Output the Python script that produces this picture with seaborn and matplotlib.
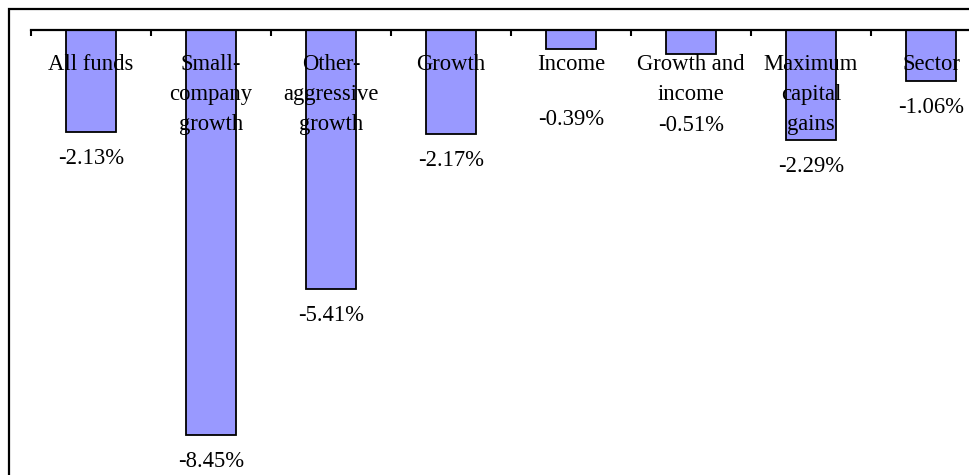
import matplotlib
matplotlib.use("Agg")
import matplotlib.pyplot as plt
import seaborn as sns
import pandas as pd
from matplotlib.patches import Rectangle

categories = ["All funds", "Small-\ncompany\ngrowth", "Other-\naggressive\ngrowth", "Growth",
              "Income", "Growth and\nincome", "Maximum\ncapital\ngains", "Sector"]
values = [-2.13, -8.45, -5.41, -2.17, -0.39, -0.51, -2.29, -1.06]
value_labels = ["-2.13%", "-8.45%", "-5.41%", "-2.17%", "-0.39%", "-0.51%", "-2.29%", "-1.06%"]

sns.set_theme(style="white")
plt.rcParams['font.family'] = ['Liberation Serif', 'DejaVu Serif']

W, H = 970, 475
fig = plt.figure(figsize=(W / 100, H / 100), dpi=100)
fig.patch.set_facecolor("white")

# axes: zero line at y=30px, categories 120px wide starting at x=31
ax = fig.add_axes([31 / W, 0, 960 / W, 1 - 30 / H])
df = pd.DataFrame({"cat": categories, "val": values})
sns.barplot(data=df, x="cat", y="val", order=categories, color="#9999FF", saturation=1,
            width=0.42, edgecolor="black", linewidth=1.3, ax=ax)

ax.set_xlim(-0.5, len(categories) - 0.5)
ax.set_ylim(-(445 / 47.9), 0)
ax.set_xlabel("")
ax.set_ylabel("")
for s in ["left", "right", "bottom"]:
    ax.spines[s].set_visible(False)
ax.spines["top"].set_visible(True)
ax.spines["top"].set_color("black")
ax.spines["top"].set_linewidth(1.6)
ax.xaxis.tick_top()
ax.set_xticks([i - 0.5 for i in range(len(categories) + 1)])
ax.set_xticklabels([])
ax.tick_params(axis="x", direction="in", length=4, width=1.5, color="black", top=True, bottom=False)
ax.set_yticks([])
ax.patch.set_alpha(0)

fs = 16.3
# category labels just below the axis line
for i, c in enumerate(categories):
    ax.annotate(c, xy=(i, 0), xytext=(0, -17.5), textcoords="offset points",
                ha="center", va="top", fontsize=fs, linespacing=1.56, color="black")

# value labels below bar ends (pushed further down when the bar is very short)
for i, (v, lab) in enumerate(zip(values, value_labels)):
    off = 1.48 if v > -0.7 else 0.55
    ax.text(i, v - off, lab, ha="center", va="center", fontsize=fs, color="black")

# chart-area border
fig.patches.append(Rectangle((9 / W, -0.1), 1.2, 1 - 9 / H + 0.1, transform=fig.transFigure,
                             fill=False, edgecolor="black", linewidth=1.6))

fig.savefig("out.png", dpi=100)
